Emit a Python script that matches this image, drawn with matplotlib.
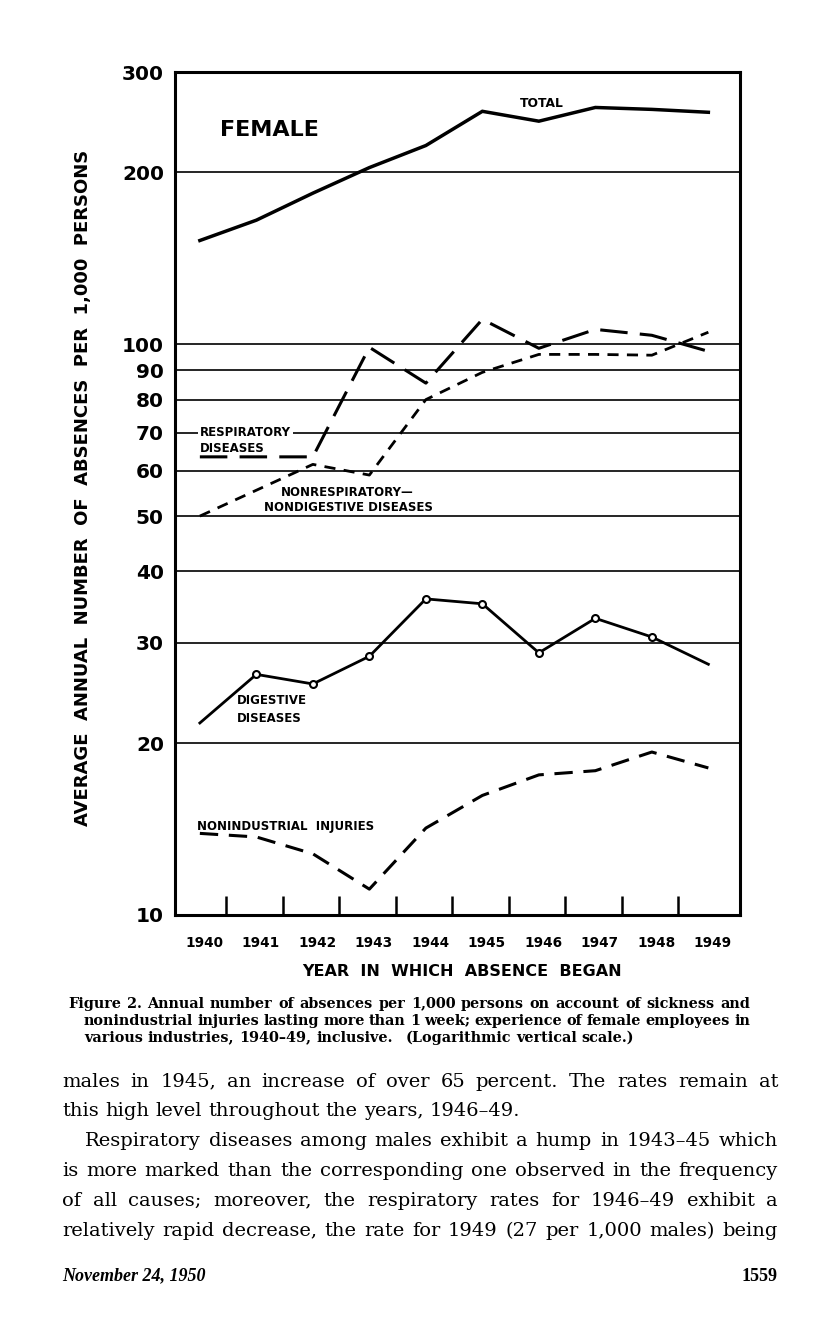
import math
import matplotlib
matplotlib.use('Agg')
import matplotlib.pyplot as plt
from matplotlib.ticker import FixedLocator, NullLocator
from matplotlib.font_manager import FontProperties
from matplotlib.backends.backend_agg import get_hinting_flag

# values (log scale)
years = list(range(1940, 1950))
total = [152, 165, 184, 204, 223, 256, 246, 260, 258, 255]
respiratory = [63.5, 63.5, 63.5, 98.8, 85.5, 110.6, 98.4, 106.2, 103.7, 97.2]
nonrespiratory = [50, 55.5, 61.6, 59, 80, 89.3, 96, 96, 95.7, 105]
digestive = [21.7, 26.4, 25.4, 28.4, 35.8, 35.1, 28.8, 33.1, 30.7, 27.5]
injuries = [13.9, 13.7, 12.8, 11.1, 14.2, 16.2, 17.6, 17.9, 19.3, 18.1]

y_ticks = [10, 20, 30, 40, 50, 60, 70, 80, 90, 100, 200, 300]
grid_values = [20, 30, 40, 50, 60, 70, 80, 90, 100, 200]

caption = [
    "Figure 2.  Annual number of absences per 1,000 persons on account of sickness and",
    "nonindustrial injuries lasting more than 1 week; experience of female employees in",
    "various industries, 1940\u201349, inclusive.   (Logarithmic vertical scale.)",
]
body = [
    "males in 1945, an increase of over 65 percent.  The rates remain at",
    "this high level throughout the years, 1946\u201349.",
    "Respiratory diseases among males exhibit a hump in 1943\u201345 which",
    "is more marked than the corresponding one observed in the frequency",
    "of all causes; moreover, the respiratory rates for 1946\u201349 exhibit a",
    "relatively rapid decrease, the rate for 1949 (27 per 1,000 males) being",
]

W, H = 816, 1335
fig = plt.figure(figsize=(W / 100, H / 100), dpi=100)
fig.patch.set_facecolor('white')
ax = fig.add_axes([175 / W, 1 - 915 / H, 565 / W, 843 / H])

bold = dict(fontweight='bold', family='DejaVu Sans')

ax.plot(years, total, color='black', lw=2.5, solid_joinstyle='miter')
ax.plot(years, respiratory, color='black', lw=2.2, dashes=(9, 4))
ax.plot(years, nonrespiratory, color='black', lw=2.0, dashes=(4, 3))
ax.plot(years, digestive, color='black', lw=2.0, marker='o', markersize=5,
        markerfacecolor='white', markeredgewidth=1.5, markevery=list(range(1, 9)))
ax.plot(years, injuries, color='black', lw=2.2, dashes=(6, 3.5))

ax.set_yscale('log')
ax.set_ylim(10, 300)
ax.set_xlim(1939.56, 1949.56)

ax.yaxis.set_major_locator(FixedLocator(y_ticks))
ax.yaxis.set_minor_locator(NullLocator())
ax.set_yticklabels([str(v) for v in y_ticks], **bold)
ax.tick_params(axis='y', length=0, pad=8, labelsize=14.5)
for v in grid_values:
    ax.axhline(v, color='black', lw=1.2, zorder=0)

ax.set_xticks([y + 0.08 for y in years])
ax.set_xticklabels([str(y) for y in years], **bold)
ax.set_xticks([y + 0.47 for y in years[:-1]], minor=True)
ax.tick_params(axis='x', which='major', length=0, pad=15, labelsize=9.8)
ax.tick_params(axis='x', which='minor', direction='in', length=14, width=1.8)

for s in ax.spines.values():
    s.set_linewidth(2.2)

# series labels
ax.text(1940.35, 237, "FEMALE", fontsize=16, va='center', ha='left', **bold)
ax.text(1946.06, 264, "TOTAL", fontsize=8.8, va='center', ha='center', **bold)
ax.text(1940.0, 70, "RESPIRATORY", fontsize=8.5, va='center', ha='left',
        bbox=dict(facecolor='white', edgecolor='none', pad=1.5), **bold)
ax.text(1940.0, 65.8, "DISEASES", fontsize=8.5, va='center', ha='left', **bold)
ax.text(1941.44, 55.0, "NONRESPIRATORY\u2014", fontsize=8.5, va='center', ha='left', **bold)
ax.text(1941.14, 51.7, "NONDIGESTIVE DISEASES", fontsize=8.5, va='center', ha='left', **bold)
ax.text(1940.65, 23.8, "DIGESTIVE", fontsize=8.5, va='center', ha='left', **bold)
ax.text(1940.65, 22.1, "DISEASES", fontsize=8.5, va='center', ha='left', **bold)
ax.text(1939.95, 14.3, "NONINDUSTRIAL  INJURIES", fontsize=8.5, va='center', ha='left', **bold)

fig.text(83 / W, 1 - 488 / H, "AVERAGE  ANNUAL  NUMBER  OF  ABSENCES  PER  1,000  PERSONS",
         rotation=90, ha='center', va='center', fontsize=13, **bold)
fig.text(462 / W, 1 - 972 / H, "YEAR  IN  WHICH  ABSENCE  BEGAN",
         ha='center', va='center', fontsize=11.5, **bold)

renderer = fig.canvas.get_renderer()


def baseline_frac(s, row, kw):
    # Agg rounds each text bitmap on its own; shift so that every word
    # ends up with its baseline on the same pixel row
    try:
        prop = FontProperties(family=kw.get('family'), size=kw.get('fontsize'),
                              weight=kw.get('fontweight', 'normal'),
                              style=kw.get('fontstyle', 'normal'))
        font = renderer._prepare_font(prop)
        font.set_text(s, 0, flags=get_hinting_flag())
        h = font.get_width_height()[1]
        desc = font.get_descent()
        y = row + h // 64 - math.floor((h - desc) / 64.0) - desc / 64.0
    except Exception:
        y = row
    return 1 - y / H


def put_line(text, x0, x1, row, justify=True, **kw):
    words = text.split(' ')
    words = [w for w in words if w]
    arts = [fig.text(0, baseline_frac(w, row, kw), w, va='baseline', ha='left', **kw)
            for w in words]
    widths = [a.get_window_extent(renderer).width for a in arts]
    if justify:
        gap = ((x1 - x0) - sum(widths)) / (len(words) - 1)
    else:
        sp = fig.text(0, 0, 'a a', **kw)
        nosp = fig.text(0, 0, 'aa', **kw)
        gap = sp.get_window_extent(renderer).width - nosp.get_window_extent(renderer).width
        sp.remove()
        nosp.remove()
    x = x0
    for i, (a, w) in enumerate(zip(arts, widths)):
        a.set_x(x / W)
        extra = gap if not (not justify and words[i].endswith('.')) else gap * 2.5
        x += w + extra


serif = ['DejaVu Serif', 'DejaVu Sans']
cap_kw = dict(family=serif, fontweight='bold', fontsize=10.4)
put_line(caption[0], 68, 750, 1008, **cap_kw)
put_line(caption[1], 84, 750, 1025, **cap_kw)
put_line(caption[2], 84, 750, 1042, justify=False, **cap_kw)

body_kw = dict(family=serif, fontsize=14)
body_y = [1087, 1116, 1146, 1176, 1206, 1236]
put_line(body[0], 62, 778, body_y[0], **body_kw)
put_line(body[1], 62, 778, body_y[1], justify=False, **body_kw)
put_line(body[2], 85, 778, body_y[2], **body_kw)
put_line(body[3], 62, 778, body_y[3], **body_kw)
put_line(body[4], 62, 778, body_y[4], **body_kw)
put_line(body[5], 62, 778, body_y[5], **body_kw)

foot_kw = dict(family='Liberation Serif', fontweight='bold', fontsize=13)
fig.text(62 / W, baseline_frac("November 24, 1950", 1281, dict(foot_kw, fontstyle='italic')),
         "November 24, 1950", fontstyle='italic', va='baseline', ha='left', **foot_kw)
fig.text(778 / W, baseline_frac("1559", 1281, foot_kw), "1559",
         va='baseline', ha='right', **foot_kw)

fig.savefig('out.png', dpi=100)
